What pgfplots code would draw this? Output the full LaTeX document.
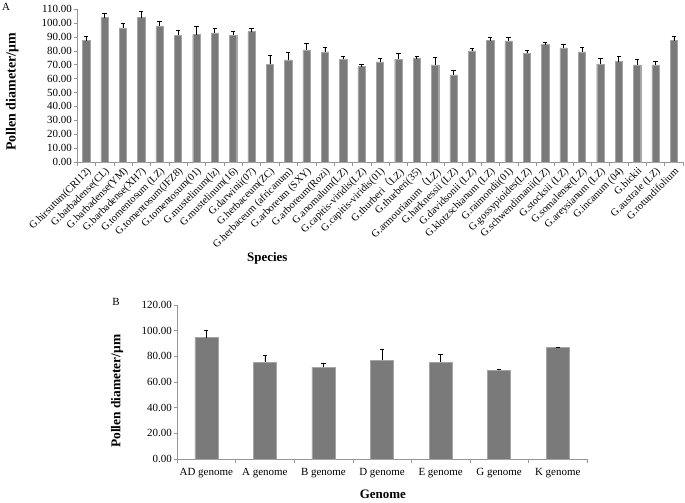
\documentclass[border=0pt]{standalone}
\usepackage{fontspec}
\setmainfont{Liberation Serif}
\newfontfamily\cjk{Noto Sans CJK SC}
\usepackage{pgfplots}
\usepackage{pgfplotstable}
\pgfplotsset{compat=1.18}
\definecolor{barfill}{RGB}{122,122,122}
\definecolor{baredge}{RGB}{165,165,165}
\definecolor{axgray}{RGB}{150,150,150}

\pgfplotstableread{
x y e
0 87.3 2.9
1 103.8 2.9
2 96.4 3.4
3 103.8 4.2
4 97.8 3.4
5 91.1 3.9
6 91.6 6.2
7 92.8 3.4
8 91.1 2.9
9 93.8 2.1
10 70.3 6.3
11 73.4 5.5
12 80.6 4.8
13 79.2 3.3
14 73.9 2.2
15 68.6 1.7
16 72.0 2.6
17 73.9 4.1
18 74.4 1.7
19 69.9 5.5
20 62.7 3.4
21 79.9 1.7
22 87.3 2.7
23 87.1 2.4
24 78.2 1.9
25 84.4 1.5
26 82.1 2.8
27 79.2 3.3
28 70.3 3.9
29 72.2 3.9
30 69.9 4.1
31 69.9 2.7
32 87.3 3.4
}\dataA

\pgfplotstableread{
x y e
0 94.6 6.0
1 75.4 5.2
2 71.5 2.8
3 77.0 8.2
4 75.4 6.2
5 69.2 0.8
6 86.8 0.5
}\dataB

\pgfplotsset{
  mystyle/.style={
    scale only axis,
    axis lines=left,
    axis line style={draw=axgray,-},
    tick align=outside,
    major tick length=3bp,
    minor tick length=4bp,
    every tick/.style={draw=axgray},
    major x tick style={draw=none},
    ymin=0,
    scaled y ticks=false,
    /pgf/number format/fixed,
    /pgf/number format/fixed zerofill,
    /pgf/number format/precision=2,
    /pgf/number format/assume math mode=true,
    yticklabel style={font=\fontsize{11}{13}\selectfont, inner sep=2pt},
    clip=false,
    every axis y label/.style={rotate=90, anchor=center, font=\fontsize{14}{16}\selectfont\bfseries},
    every axis x label/.style={anchor=center, font=\fontsize{13}{15}\selectfont\bfseries},
  },
}

\begin{document}
\begin{tikzpicture}
\useasboundingbox (0,0) rectangle (685bp,-503bp);
\node[font=\fontsize{11}{13}\selectfont, anchor=center] at (6bp,-7bp) {A};
\node[font=\fontsize{11}{13}\selectfont, anchor=center] at (116bp,-302bp) {B};

\begin{axis}[
  mystyle,
  at={(77bp,-162bp)}, anchor=south west,
  width=606bp, height=153bp,
  xmin=-0.5, xmax=32.5, ymax=110,
  ytick={0,10,...,110},
  xtick={0,...,32},
  minor xtick={-0.5,0.5,...,32.5},
  xticklabels={
    G.hirsutum(CRI12),
    G.barbadense(CL),
    G.barbadense(YM),
    G.barbadense(XH7),
    G.tomentosum (LZ),
    G.tomentosum(JFZ8),
    G.tomentosum(01),
    G.mustelinum(lz),
    G.mustelinum(16),
    G.darwinii(07),
    G.herbaceum(ZC),
    G.herbaceum (africanum),
    G.arboreum (SXY),
    G.arboreum(Rozi),
    G.anomalum(LZ),
    G.capitis-viridis(LZ),
    G.capitis-viridis(01),
    {G.thurberi{\cjk （}LZ)},
    G.thurberi(35),
    {G.armourianum{\cjk （}LZ)},
    G.harknessii (LZ),
    G.davidsonii (LZ),
    G.klotzschianum (LZ),
    G.raimondii(01),
    G.gossypioides(LZ),
    G.schwendimanii(LZ),
    G.stocksii (LZ),
    G.somalense(LZ),
    G.areysianum (LZ),
    G.incanum (04),
    G.bickii,
    G.australe (LZ),
    G.rotundifolium},
  xticklabel style={rotate=45, anchor=north east, inner sep=1pt, font=\fontsize{10.5}{12}\selectfont},
  ylabel={Pollen diameter/μm},
  xlabel={Species},
  ylabel style={at={(rel axis cs:-0.107,0.458)}},
  xlabel style={at={(rel axis cs:0.314,-0.627)}},
]
\addplot[ybar, bar width=7.3bp, fill=barfill, draw=baredge,
  error bars/.cd, y dir=plus, y explicit,
  error bar style={black, line width=0.6pt},
  error mark options={rotate=90, mark size=2.2bp, black, line width=0.6pt}]
  table[x=x, y=y, y error=e]{\dataA};
\end{axis}

\begin{axis}[
  mystyle,
  at={(177bp,-459bp)}, anchor=south west,
  width=410bp, height=154bp,
  xmin=-0.5, xmax=6.5, ymax=120,
  ytick={0,20,...,120},
  xtick={0,...,6},
  minor xtick={-0.5,0.5,...,6.5},
  xticklabels={AD genome, A genome, B genome, D genome, E genome, G genome, K genome},
  xticklabel style={font=\fontsize{11}{13}\selectfont, inner sep=2pt, yshift=-4bp},
  ylabel={Pollen diameter/μm},
  xlabel={Genome},
  ylabel style={at={(rel axis cs:-0.146,0.44)}, font=\fontsize{13.5}{15}\selectfont\bfseries},
  xlabel style={at={(rel axis cs:0.502,-0.227)}},
]
\addplot[ybar, bar width=23bp, fill=barfill, draw=baredge,
  error bars/.cd, y dir=plus, y explicit,
  error bar style={black, line width=0.6pt},
  error mark options={rotate=90, mark size=2.2bp, black, line width=0.6pt}]
  table[x=x, y=y, y error=e]{\dataB};
\end{axis}
\end{tikzpicture}
\end{document}
